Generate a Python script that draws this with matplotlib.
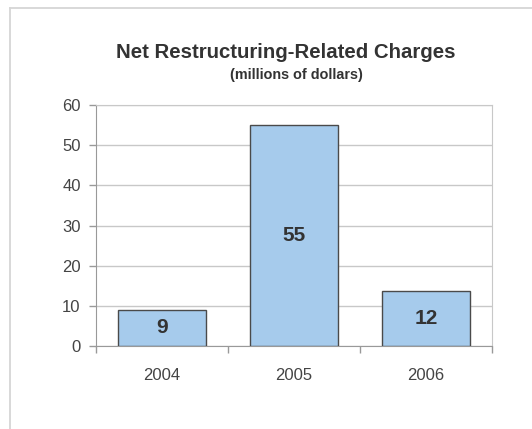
import matplotlib.pyplot as plt
from matplotlib.lines import Line2D

years = ['2004', '2005', '2006']
charges = [9, 55, 13.6]          # bar heights as drawn
bar_labels = ['9', '55', '12']   # labels printed inside the bars
y_ticks = [0, 10, 20, 30, 40, 50, 60]

plt.rcParams['font.family'] = ['Liberation Sans', 'DejaVu Sans']

fig = plt.figure(figsize=(5.32, 4.29), dpi=100)
ax = fig.add_axes([96 / 532, 1 - 346 / 429, 396 / 532, 241 / 429])

x = range(len(years))
bars = ax.bar(x, charges, width=0.67, color='#a6cbec', edgecolor='#4a4a4a',
              linewidth=1.0, zorder=3)

for b, lab in zip(bars, bar_labels):
    ax.text(b.get_x() + b.get_width() / 2, b.get_height() / 2, lab,
            ha='center', va='center', fontsize=15, fontweight='bold',
            color='#333333', zorder=4)

ax.set_xlim(-0.5, len(years) - 0.5)
ax.set_ylim(0, 60)
ax.set_yticks(y_ticks)
ax.grid(axis='y', color='#c8c8c8', linewidth=1.0, zorder=0)

# category ticks sit between the bars
ax.set_xticks(list(x))
ax.set_xticklabels(years)
ax.tick_params(axis='x', length=0, pad=16, labelsize=12, labelcolor='#444444')
ax.set_xticks([-0.5, 0.5, 1.5, 2.5], minor=True)
ax.tick_params(axis='x', which='minor', length=5, color='#999999', width=1)
ax.tick_params(axis='y', length=5, color='#999999', width=1, pad=6,
               labelsize=12, labelcolor='#444444')

ax.spines['left'].set_color('#999999')
ax.spines['bottom'].set_color('#999999')
ax.spines['top'].set_color('#c8c8c8')
ax.spines['right'].set_color('#c8c8c8')

fig.text(286 / 532, 1 - 52 / 429, 'Net Restructuring-Related Charges',
         ha='center', va='center', fontsize=14.7, fontweight='bold', color='#333333')
fig.text(296 / 532, 1 - 75 / 429, '(millions of dollars)',
         ha='center', va='center', fontsize=10.4, fontweight='bold', color='#333333')

# outer frame: left and top edges only
fig.add_artist(Line2D([10 / 532, 10 / 532], [0, 1 - 8 / 429],
                      transform=fig.transFigure, color='#d6d6d6', linewidth=1.3))
fig.add_artist(Line2D([10 / 532, 1], [1 - 8 / 429, 1 - 8 / 429],
                      transform=fig.transFigure, color='#d6d6d6', linewidth=1.3))

fig.savefig('out.png', dpi=100)
